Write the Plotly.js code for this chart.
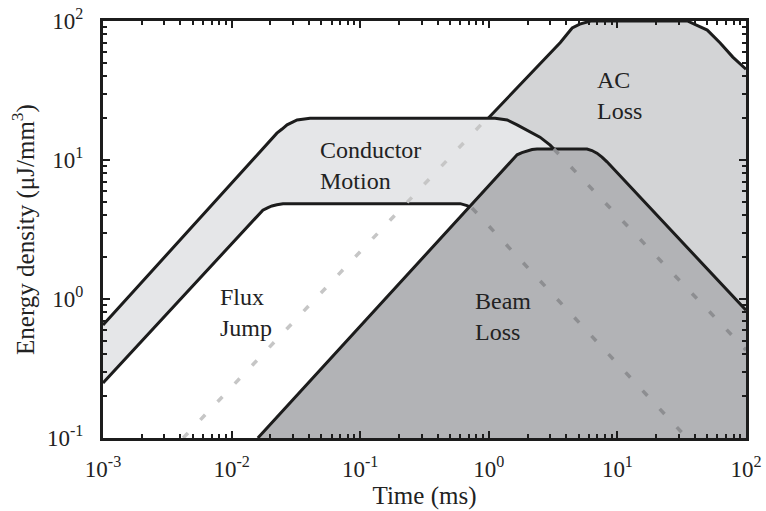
<!DOCTYPE html>
<html>
<head>
<meta charset="utf-8">
<script src="https://cdn.plot.ly/plotly-3.0.1.min.js"></script>
<style>
  html, body { margin: 0; padding: 0; background: #fff; }
  #chart { width: 766px; height: 511px; }
</style>
</head>
<body>
<div id="chart"></div>
<script>
// Boundary curves of each energy-deposition regime (time in ms, energy in µJ/mm³)
const acTime   = [0.0042, 3.6, 4.0, 4.45, 5.1, 6.2, 35, 41.5, 46, 50, 63, 79, 100];
const acEnergy = [0.1, 70, 79, 89, 95, 100, 100, 93.5, 90, 86, 69.5, 55, 45];

const cmTime   = [0.001, 0.0225, 0.0247, 0.027, 0.0323, 0.0407, 1.12, 1.39, 1.66, 2.02, 2.5, 3.0, 100];
const cmEnergy = [0.65, 15.6, 16.7, 17.9, 19.4, 20, 20, 19.4, 17.9, 16.2, 14.6, 12.8, 0.43];

const fjTime   = [0.001, 0.0175, 0.0192, 0.0206, 0.0225, 0.0251, 0.6, 0.64, 0.677, 0.74, 34.7];
const fjEnergy = [0.249, 4.36, 4.55, 4.67, 4.76, 4.85, 4.85, 4.8, 4.7, 4.52, 0.1];

const blTime   = [0.016, 1.66, 1.81, 1.98, 2.17, 2.37, 5.8, 6.34, 6.93, 7.59, 8.3, 100];
const blEnergy = [0.1, 10.9, 11.3, 11.6, 11.9, 12, 12, 11.7, 11.2, 10.5, 9.7, 0.83];

// Hidden stretches of the boundaries, shown dashed
const acHiddenTime   = [0.0042, 0.97];
const acHiddenEnergy = [0.1, 20];
const cmHiddenTime   = [3.2, 100];
const cmHiddenEnergy = [12, 0.43];
const fjHiddenTime   = [0.74, 34.7];
const fjHiddenEnergy = [4.52, 0.1];

// Axis floor used to close each filled region
const floorTime   = [0.001, 100];
const floorEnergy = [0.1, 0.1];

const tickVals  = [0.001, 0.01, 0.1, 1, 10, 100];
const tickText  = ['10<sup>-3</sup>', '10<sup>-2</sup>', '10<sup>-1</sup>', '10<sup>0</sup>', '10<sup>1</sup>', '10<sup>2</sup>'];
const yTickVals = [0.1, 1, 10, 100];
const yTickText = ['10<sup>-1</sup>', '10<sup>0</sup>', '10<sup>1</sup>', '10<sup>2</sup>'];

const LINE = '#1c1c1c';
const SERIF = '"Liberation Serif", "Times New Roman", serif';

function floorTrace() {
  return { x: floorTime, y: floorEnergy, mode: 'lines', line: { width: 0 },
           hoverinfo: 'skip', showlegend: false };
}
function regionTrace(x, y, fillcolor) {
  return { x: x, y: y, mode: 'lines', fill: 'tonexty', fillcolor: fillcolor,
           line: { color: LINE, width: 3, shape: 'linear' },
           hoverinfo: 'skip', showlegend: false };
}
function dashTrace(x, y, color) {
  return { x: x, y: y, mode: 'lines',
           line: { color: color, width: 3.5, dash: '7px,18px' },
           hoverinfo: 'skip', showlegend: false };
}

// Minor ticks at 2..9 within each decade
function minorVals(lo, hi) {
  const v = [];
  for (let e = lo; e < hi; e++) for (let m = 2; m <= 9; m++) v.push(m * Math.pow(10, e));
  return v;
}

const data = [
  floorTrace(), regionTrace(acTime, acEnergy, '#d3d4d6'),
  floorTrace(), regionTrace(cmTime, cmEnergy, '#e5e6e8'),
  floorTrace(), regionTrace(fjTime, fjEnergy, '#ffffff'),
  floorTrace(), regionTrace(blTime, blEnergy, '#b2b3b6'),
  dashTrace(acHiddenTime, acHiddenEnergy, '#c6c6c6'),
  dashTrace(cmHiddenTime, cmHiddenEnergy, '#8d8e91'),
  dashTrace(fjHiddenTime, fjHiddenEnergy, '#8d8e91')
];

function axisStyle(vals, text, minor) {
  return {
    type: 'log', tickmode: 'array', tickvals: vals, ticktext: text,
    ticks: 'inside', ticklen: 7, tickwidth: 2, tickcolor: LINE,
    showline: true, linewidth: 3, linecolor: LINE, mirror: 'ticks',
    showgrid: false, zeroline: false,
    tickfont: { family: SERIF, size: 23, color: '#222' },
    minor: { tickmode: 'array', tickvals: minor, ticks: 'inside', ticklen: 4,
             tickwidth: 2, tickcolor: LINE, showgrid: false }
  };
}

const xaxis = axisStyle(tickVals, tickText, minorVals(-3, 2));
xaxis.range = [-3, 2];
xaxis.ticklabelstandoff = 8;
xaxis.title = { text: 'Time (ms)', font: { family: SERIF, size: 25, color: '#222' }, standoff: 3 };

const yaxis = axisStyle(yTickVals, yTickText, minorVals(-1, 2));
yaxis.range = [-1, 2];
yaxis.ticklabelstandoff = 12;
yaxis.title = { text: 'Energy density (μJ/mm<sup>3</sup>)', font: { family: SERIF, size: 25, color: '#222' }, standoff: 6 };

function label(text, px, py) {
  return { text: text, xref: 'paper', yref: 'paper',
           x: (px - 103) / 643, y: (438 - py) / 417,
           xanchor: 'left', yanchor: 'middle', align: 'left', showarrow: false,
           font: { family: SERIF, size: 24, color: '#222' } };
}

const layout = {
  width: 766, height: 511,
  margin: { l: 103, r: 20, t: 21, b: 73 },
  paper_bgcolor: '#fff', plot_bgcolor: '#fff',
  xaxis: xaxis, yaxis: yaxis, showlegend: false,
  annotations: [
    label('AC<br>Loss', 595, 95),
    label('Conductor<br>Motion', 318, 166),
    label('Flux<br>Jump', 218, 312),
    label('Beam<br>Loss', 473, 316)
  ]
};

Plotly.newPlot('chart', data, layout, { displayModeBar: false, staticPlot: true });
</script>
</body>
</html>
